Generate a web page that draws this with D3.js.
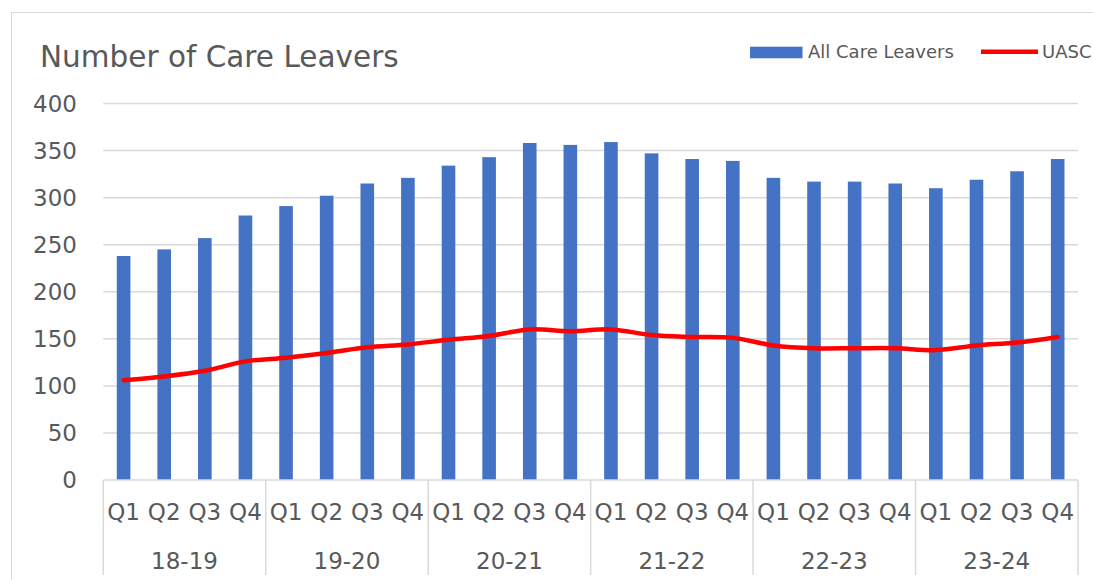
<!DOCTYPE html>
<html>
<head>
<meta charset="utf-8">
<script src="https://cdn.jsdelivr.net/npm/d3@7"></script>
<style>
  html, body { margin: 0; padding: 0; background: #fff; }
  svg { display: block; font-family: "DejaVu Sans", sans-serif; }
</style>
</head>
<body>
<svg id="chart" width="1093" height="580"></svg>
<script>
const years = ["18-19", "19-20", "20-21", "21-22", "22-23", "23-24"];
const quarters = ["Q1", "Q2", "Q3", "Q4"];
const allCareLeavers = [238, 245, 257, 281, 291, 302, 315, 321, 334, 343, 358, 356,
                        359, 347, 341, 339, 321, 317, 317, 315, 310, 319, 328, 341];
const uasc = [106, 110, 116, 126, 130, 135, 141, 144, 149, 153, 160, 158,
              160, 154, 152, 151, 143, 140, 140, 140, 138, 143, 146, 152];
const yTicks = [0, 50, 100, 150, 200, 250, 300, 350, 400];
const chartTitle = "Number of Care Leavers";
const seriesNames = ["All Care Leavers", "UASC"];

(function () {
const categories = [];
years.forEach(yr => quarters.forEach(q => categories.push({ key: yr + " " + q, year: yr, q: q })));

const svg = d3.select("#chart");
const textColor = "#595959";
const gridColor = "#D9D9D9";

// chart border
svg.append("rect").attr("x", 11.5).attr("y", 12.5).attr("width", 1200).attr("height", 700)
  .attr("fill", "#fff").attr("stroke", gridColor).attr("stroke-width", 1);

const plotLeft = 103.3, plotRight = 1078, plotTop = 103.5, plotBottom = 480;

const x = d3.scaleBand().domain(categories.map(d => d.key)).range([plotLeft, plotRight])
  .paddingInner(0.665).paddingOuter(0.3325);
const step = x.step();
const y = d3.scaleLinear().domain([0, 400]).range([plotBottom, plotTop]);

// gridlines
svg.append("g").selectAll("line").data(yTicks.filter(t => t > 0)).join("line")
  .attr("x1", plotLeft).attr("x2", plotRight)
  .attr("y1", d => y(d)).attr("y2", d => y(d))
  .attr("stroke", gridColor).attr("stroke-width", 1.5);

// y axis labels
svg.append("g").selectAll("text").data(yTicks).join("text")
  .attr("x", 77).attr("y", d => y(d)).attr("dy", "0.36em")
  .attr("text-anchor", "end").attr("font-size", 23).attr("fill", textColor)
  .text(d => d);

// bars
svg.append("g").selectAll("rect").data(allCareLeavers).join("rect")
  .attr("x", (d, i) => x(categories[i].key))
  .attr("width", x.bandwidth())
  .attr("y", d => y(d))
  .attr("height", d => y(0) - y(d))
  .attr("fill", "#4472C4");

// baseline
svg.append("line").attr("x1", plotLeft).attr("x2", plotRight).attr("y1", plotBottom).attr("y2", plotBottom)
  .attr("stroke", gridColor).attr("stroke-width", 1.5);

// group separators
const groupEdges = d3.range(years.length + 1).map(i => plotLeft + i * 4 * step);
svg.append("g").selectAll("line").data(groupEdges).join("line")
  .attr("x1", d => d).attr("x2", d => d).attr("y1", plotBottom).attr("y2", 575)
  .attr("stroke", gridColor).attr("stroke-width", 1.5);

// quarter labels
svg.append("g").selectAll("text").data(categories).join("text")
  .attr("x", d => x(d.key) + x.bandwidth() / 2).attr("y", 519.5)
  .attr("text-anchor", "middle").attr("font-size", 23).attr("fill", textColor)
  .text(d => d.q);

// year labels
svg.append("g").selectAll("text").data(years).join("text")
  .attr("x", (d, i) => (groupEdges[i] + groupEdges[i + 1]) / 2).attr("y", 569)
  .attr("text-anchor", "middle").attr("font-size", 23).attr("fill", textColor)
  .text(d => d);

// UASC line
const line = d3.line()
  .x((d, i) => x(categories[i].key) + x.bandwidth() / 2)
  .y(d => y(d))
  .curve(d3.curveCatmullRom.alpha(0.5));
svg.append("path").datum(uasc).attr("d", line)
  .attr("fill", "none").attr("stroke", "#FF0000").attr("stroke-width", 4.5)
  .attr("stroke-linecap", "round").attr("stroke-linejoin", "round");

// title
svg.append("text").attr("x", 40).attr("y", 67).attr("font-size", 29.5)
  .attr("fill", textColor).text(chartTitle);

// legend
svg.append("rect").attr("x", 750).attr("y", 46.7).attr("width", 52.5).attr("height", 11.6)
  .attr("fill", "#4472C4");
svg.append("text").attr("x", 808).attr("y", 58.4).attr("font-size", 18)
  .attr("fill", textColor).text(seriesNames[0]);
svg.append("line").attr("x1", 981).attr("x2", 1038).attr("y1", 51.8).attr("y2", 51.8)
  .attr("stroke", "#FF0000").attr("stroke-width", 4.5);
svg.append("text").attr("x", 1042).attr("y", 58.4).attr("font-size", 18)
  .attr("fill", textColor).text(seriesNames[1]);
})();
</script>
</body>
</html>
